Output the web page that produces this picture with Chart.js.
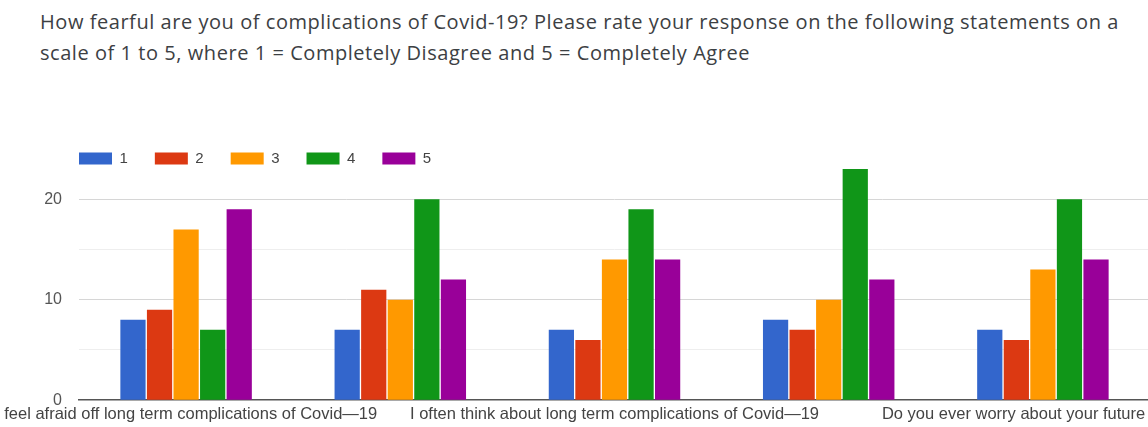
<!DOCTYPE html>
<html>
<head>
<meta charset="utf-8">
<script src="https://cdn.jsdelivr.net/npm/chart.js@4.4.0/dist/chart.umd.min.js"></script>
<style>
  html, body { margin: 0; padding: 0; background: #fff; overflow: hidden; }
  body { width: 1148px; height: 427px; position: relative; }
  #titulo {
    position: absolute; left: 40px; top: 6px;
    font-family: 'Open Sans', sans-serif; font-size: 20px; line-height: 31px;
    letter-spacing: 0.55px; color: #3c4043; white-space: nowrap;
  }
  #grafico { position: absolute; left: 0; top: 97px; width: 1150px; height: 336px; }
</style>
</head>
<body>
<div id="titulo">How fearful are you of complications of Covid-19? Please rate your response on the following statements on a<br>scale of 1 to 5, where 1 = Completely Disagree and 5 = Completely Agree</div>
<div id="grafico"><canvas id="chart"></canvas></div>
<script>
// Dados
const categorias = [
    'I feel afraid off long term complications of Covid—19',
    'I am scared of getting infected with Covid—19',
    'I often think about long term complications of Covid—19',
    'I worry about the health of my family because of Covid—19',
    'Do you ever worry about your future health?'
];
const escala = ['1', '2', '3', '4', '5'];
const resposta1 = [8, 7, 7, 8, 7];
const resposta2 = [9, 11, 6, 7, 6];
const resposta3 = [17, 10, 14, 10, 13];
const resposta4 = [7, 20, 19, 23, 20];
const resposta5 = [19, 12, 14, 12, 14];
const rotulosY = [0, 10, 20];
const rotulosXVisiveis = [0, 2, 4];

const cores = ['#3366cc', '#dc3912', '#ff9900', '#109618', '#990099'];
const series = [resposta1, resposta2, resposta3, resposta4, resposta5];
const fonte = "'Liberation Sans', Arial, sans-serif";

// Move a legenda para dentro do topo da área do gráfico, alinhada com o eixo
const legendaNoTopo = {
    id: 'legendaNoTopo',
    afterLayout(chart) {
        const lg = chart.legend;
        const pad = lg.options.labels.padding;
        lg.left = chart.chartArea.left - pad;
        lg.top = chart.chartArea.top - pad + 2;
        lg.bottom = chart.chartArea.top + 40;
    }
};

const ctx = document.getElementById('chart').getContext('2d');
new Chart(ctx, {
    type: 'bar',
    data: {
        labels: categorias,
        datasets: series.map((valores, i) => ({
            label: escala[i],
            data: valores,
            backgroundColor: cores[i],
            borderWidth: 0,
            categoryPercentage: 0.62,
            barPercentage: 0.95
        }))
    },
    options: {
        responsive: true,
        maintainAspectRatio: false,
        animation: false,
        layout: { padding: { top: 0, bottom: 5, left: 0, right: 0 } },
        plugins: {
            legend: {
                align: 'start',
                labels: {
                    boxWidth: 33,
                    boxHeight: 12,
                    padding: 27,
                    color: '#444',
                    font: { family: fonte, size: 15 }
                }
            },
            tooltip: { enabled: false }
        },
        scales: {
            x: {
                grid: { display: false, drawTicks: false },
                border: { display: true, color: '#555', width: 1.5 },
                ticks: {
                    autoSkip: false,
                    maxRotation: 0,
                    minRotation: 0,
                    padding: 4,
                    color: '#444',
                    font: { family: fonte, size: 16.5 },
                    callback: (v, i) => rotulosXVisiveis.includes(i) ? categorias[i] : ''
                },
                afterFit(scale) {
                    scale.paddingLeft = 0;
                    scale.paddingRight = 0;
                }
            },
            y: {
                min: 0,
                max: 25,
                border: { display: false },
                grid: {
                    drawTicks: false,
                    color: (c) => {
                        const v = c.tick.value;
                        if (v === 0 || v === 25) return 'rgba(0,0,0,0)';
                        return v % 10 === 0 ? '#d6d6d6' : '#eeeeee';
                    }
                },
                ticks: {
                    stepSize: 5,
                    padding: 17,
                    color: '#555',
                    font: { family: fonte, size: 16 },
                    callback: (v) => rotulosY.includes(v) ? v : ''
                },
                afterFit(scale) {
                    scale.width = 79;
                }
            }
        }
    },
    plugins: [legendaNoTopo]
});
</script>
</body>
</html>
